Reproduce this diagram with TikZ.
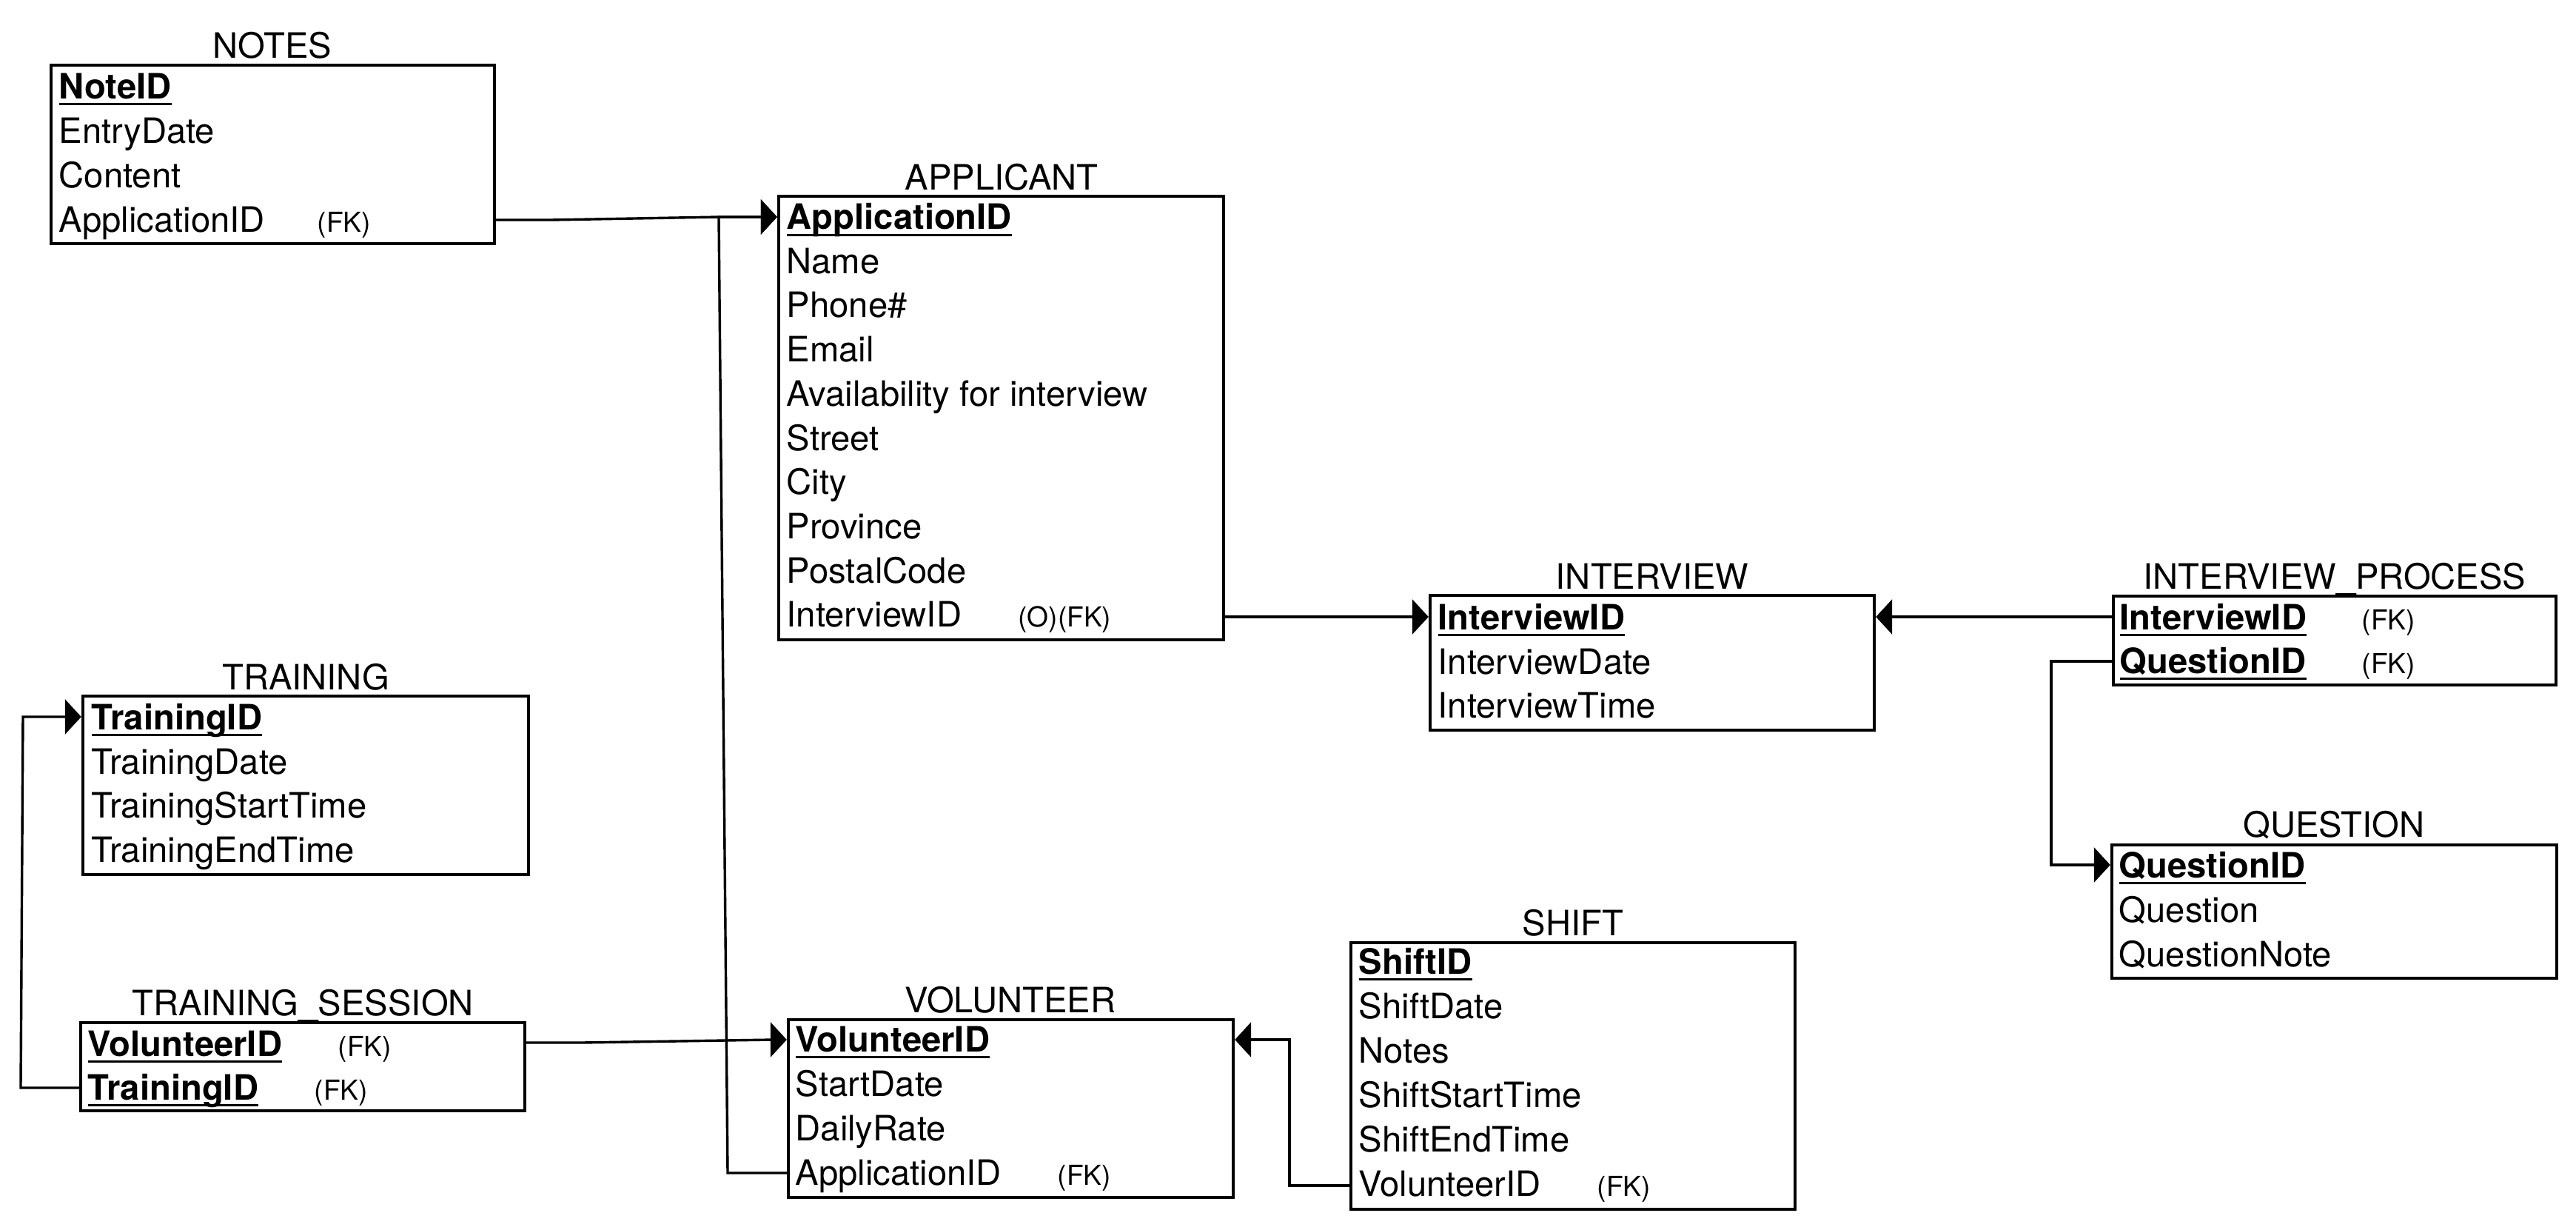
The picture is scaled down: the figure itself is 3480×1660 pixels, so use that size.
\documentclass[tikz,border=0pt]{standalone}
\usepackage{fontspec}
\setmainfont{TeX Gyre Heros}
\usetikzlibrary{arrows.meta,fit}
\newsavebox\kbox
\newcommand\keyu[1]{\sbox\kbox{\bfseries #1}\rlap{\vrule height -1.6pt depth 2.35pt width \wd\kbox}\usebox\kbox}
\begin{document}
\begin{tikzpicture}[x=0.25pt,y=-0.25pt,
  tbl/.style={draw, line width=1.1pt, inner sep=0pt},
  ttl/.style={anchor=base, inner sep=0pt, font=\fontsize{11.8pt}{14pt}\selectfont},
  fld/.style={anchor=base west, inner sep=0pt, font=\fontsize{11.8pt}{14pt}\selectfont},
  fk/.style={anchor=base west, inner sep=0pt, font=\fontsize{9.3pt}{11pt}\selectfont},
  conn/.style={line width=0.85pt},
  fkarrow/.style={conn, -{Triangle[length=5.5pt,width=11.75pt]}}
]
\useasboundingbox (0,0) rectangle (3480,1660);

% NOTES
\node[tbl, fit={(69,88)(668,329)}] (notes) {};
\node[ttl] (notesT) at (368,79) {NOTES};
\node[fld] (notes1) at (79,133) {\keyu{NoteID}};
\node[fld] (notes2) at (79,193) {EntryDate};
\node[fld] (notes3) at (79,253) {Content};
\node[fld] (notes4) at (79,313) {ApplicationID};
\node[fk] (notes4k) at (428,313) {(FK)};

% APPLICANT
\node[tbl, fit={(1052,265)(1653,864)}] (applicant) {};
\node[ttl] (applicantT) at (1353,256) {APPLICANT};
\node[fld] (app1) at (1062,309.5) {\keyu{ApplicationID}};
\node[fld] (app2) at (1062,369.2) {Name};
\node[fld] (app3) at (1062,428.9) {Phone\#};
\node[fld] (app4) at (1062,488.6) {Email};
\node[fld] (app5) at (1062,548.3) {Availability for interview};
\node[fld] (app6) at (1062,608) {Street};
\node[fld] (app7) at (1062,667.7) {City};
\node[fld] (app8) at (1062,727.4) {Province};
\node[fld] (app9) at (1062,787.1) {PostalCode};
\node[fld] (app10) at (1062,846.8) {InterviewID};
\node[fk] (app10k) at (1374.5,846.8) {(O)(FK)};

% INTERVIEW
\node[tbl, fit={(1932,804)(2532,986)}] (interview) {};
\node[ttl] (interviewT) at (2232,795) {INTERVIEW};
\node[fld] (int1) at (1942,850) {\keyu{InterviewID}};
\node[fld] (int2) at (1942,910) {InterviewDate};
\node[fld] (int3) at (1942,969) {InterviewTime};

% INTERVIEW_PROCESS
\node[tbl, fit={(2855,805)(3453,925)}] (ip) {};
\node[ttl] (ipT) at (3154,795) {INTERVIEW\_PROCESS};
\node[fld] (ip1) at (2863,850) {\keyu{InterviewID}};
\node[fk] (ip1k) at (3190,850) {(FK)};
\node[fld] (ip2) at (2863,909) {\keyu{QuestionID}};
\node[fk] (ip2k) at (3190,909) {(FK)};

% QUESTION
\node[tbl, fit={(2853,1141)(3454,1321)}] (question) {};
\node[ttl] (questionT) at (3153,1130) {QUESTION};
\node[fld] (q1) at (2862,1185) {\keyu{QuestionID}};
\node[fld] (q2) at (2862,1245) {Question};
\node[fld] (q3) at (2862,1305) {QuestionNote};

% TRAINING
\node[tbl, fit={(112,940)(714,1181)}] (training) {};
\node[ttl] (trainingT) at (413,931) {TRAINING};
\node[fld] (tr1) at (123,985) {\keyu{TrainingID}};
\node[fld] (tr2) at (123,1045) {TrainingDate};
\node[fld] (tr3) at (123,1104) {TrainingStartTime};
\node[fld] (tr4) at (123,1164) {TrainingEndTime};

% TRAINING_SESSION
\node[tbl, fit={(109,1381)(709,1500)}] (ts) {};
\node[ttl] (tsT) at (409,1371) {TRAINING\_SESSION};
\node[fld] (ts1) at (118,1426) {\keyu{VolunteerID}};
\node[fk] (ts1k) at (456,1426) {(FK)};
\node[fld] (ts2) at (118,1485) {\keyu{TrainingID}};
\node[fk] (ts2k) at (424,1485) {(FK)};

% VOLUNTEER
\node[tbl, fit={(1065,1377)(1666,1617)}] (volunteer) {};
\node[ttl] (volunteerT) at (1365,1367) {VOLUNTEER};
\node[fld] (v1) at (1074,1420) {\keyu{VolunteerID}};
\node[fld] (v2) at (1074,1480) {StartDate};
\node[fld] (v3) at (1074,1540) {DailyRate};
\node[fld] (v4) at (1074,1600) {ApplicationID};
\node[fk] (v4k) at (1428,1600) {(FK)};

% SHIFT
\node[tbl, fit={(1825,1273)(2425,1633)}] (shiftbox) {};
\node[ttl] (shiftT) at (2125,1263) {SHIFT};
\node[fld] (s1) at (1835,1315) {\keyu{ShiftID}};
\node[fld] (s2) at (1835,1375) {ShiftDate};
\node[fld] (s3) at (1835,1435) {Notes};
\node[fld] (s4) at (1835,1495) {ShiftStartTime};
\node[fld] (s5) at (1835,1555) {ShiftEndTime};
\node[fld] (s6) at (1835,1615) {VolunteerID};
\node[fk] (s6k) at (2157,1615) {(FK)};

% connectors
\draw[fkarrow] (notes.east |- 0,297) -- (744,297) -- (971,293) -- (applicant.west |- 0,293);
\draw[fkarrow] (volunteer.west |- 0,1584) -- (983,1584) -- (971,293) -- (applicant.west |- 0,293);
\draw[fkarrow] (applicant.east |- 0,833) -- (interview.west |- 0,833);
\draw[fkarrow] (ip.west |- 0,833) -- (interview.east |- 0,833);
\draw[fkarrow] (ip.west |- 0,893) -- (2771,893) -- (2771,1168) -- (question.west |- 0,1168);
\draw[fkarrow] (ts.west |- 0,1469) -- (28,1469) -- (31,968) -- (training.west |- 0,968);
\draw[fkarrow] (ts.east |- 0,1408) -- (786,1408) -- (1045,1404) -- (volunteer.west |- 0,1404);
\draw[fkarrow] (shiftbox.west |- 0,1601) -- (1742,1601) -- (1742,1404) -- (volunteer.east |- 0,1404);
\end{tikzpicture}
\end{document}
